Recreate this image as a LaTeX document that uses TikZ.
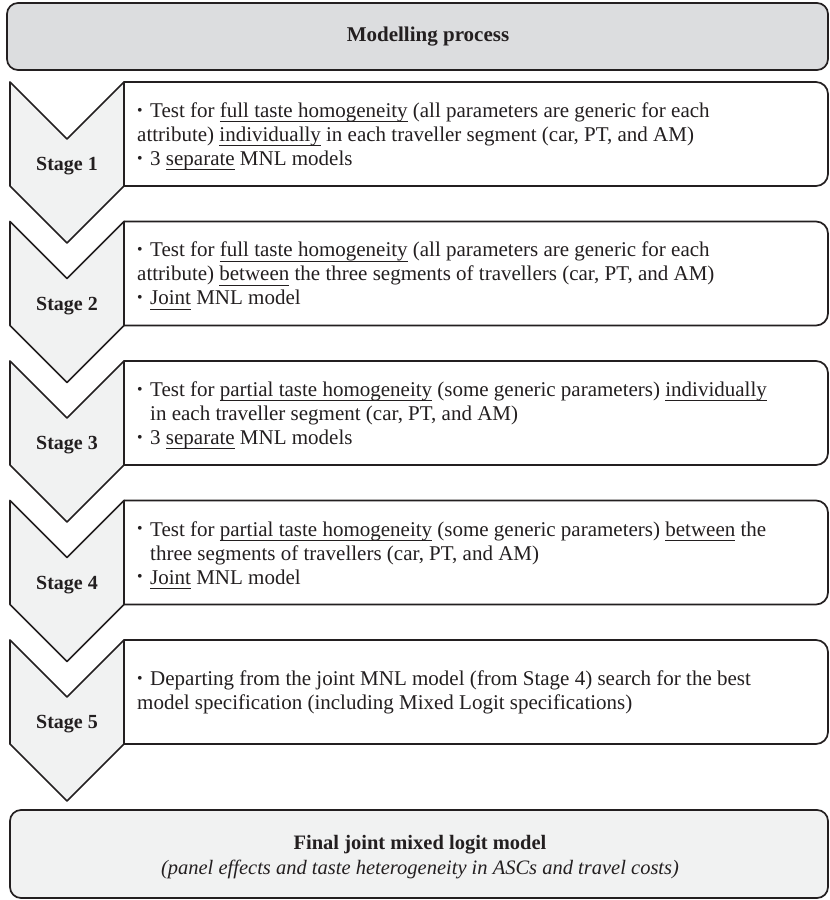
\documentclass[tikz,border=0pt]{standalone}
\usepackage{fontspec}
\setmainfont{Liberation Serif}
\usepackage{graphicx}
\definecolor{ink}{HTML}{231F20}
\definecolor{headfill}{HTML}{DCDDDF}
\definecolor{lightfill}{HTML}{F1F2F2}
\newcommand\bul{\makebox[13pt][l]{\raisebox{0.22ex}{\scalebox{0.75}{\textbullet}}}}
\newcommand\ind{\hspace*{13pt}}
\newsavebox\ulxbox
\newcommand\ulx[1]{\sbox\ulxbox{#1}\rlap{\rule[-4.8pt]{\wd\ulxbox}{0.9pt}}\usebox\ulxbox}
\begin{document}
\begin{tikzpicture}[x=1pt,y=-1pt,
  frame/.style={draw=ink,line width=1.7pt,line join=round},
  chev/.style={frame,fill=lightfill},
  stagebox/.style={frame,fill=white},
  stagelabel/.style={font=\fontsize{20}{24}\selectfont\bfseries,text=ink},
  stagetext/.style={font=\fontsize{21}{24}\selectfont,text=ink,align=left,anchor=west,inner sep=0pt}]
\useasboundingbox (0,0) rectangle (830,900);
% header
\draw[frame,fill=headfill,rounded corners=11pt] (7,3) rectangle (828,70);
\node[font=\fontsize{21}{25}\selectfont\bfseries,text=ink] (head) at (428,36.5) {Modelling process};
% stages
\foreach \t/\n in {82/1,221.5/2,361/3,500.5/4,640/5}{
  \draw[chev] (10,\t) -- (67,\t+57) -- (124,\t) -- (124,\t+104) -- (67,\t+161) -- (10,\t+104) -- cycle;
  \draw[stagebox] (124,\t) -- (816,\t) arc[start angle=-90,end angle=0,radius=12] -- (828,\t+92) arc[start angle=0,end angle=90,radius=12] -- (124,\t+104) -- cycle;
  \node[stagelabel] (label\n) at (67,\t+84.5) {Stage \n};
}
\node[stagetext] (text1) at (137,136.5) {\bul Test for \ulx{full taste homogeneity} (all parameters are generic for each\\
attribute) \ulx{individually} in each traveller segment (car, PT, and AM)\\
\bul 3 \ulx{separate} MNL models};
\node[stagetext] (text2) at (137,276) {\bul Test for \ulx{full taste homogeneity} (all parameters are generic for each\\
attribute) \ulx{between} the three segments of travellers (car, PT, and AM)\\
\bul \ulx{Joint} MNL model};
\node[stagetext] (text3) at (137,415.5) {\bul Test for \ulx{partial taste homogeneity} (some generic parameters) \ulx{individually}\\
\ind in each traveller segment (car, PT, and AM)\\
\bul 3 \ulx{separate} MNL models};
\node[stagetext] (text4) at (137,555) {\bul Test for \ulx{partial taste homogeneity} (some generic parameters) \ulx{between} the\\
\ind three segments of travellers (car, PT, and AM)\\
\bul \ulx{Joint} MNL model};
\node[stagetext] (text5) at (137,692) {\bul Departing from the joint MNL model (from Stage 4) search for the best\\
model specification (including Mixed Logit specifications)};
% final
\draw[frame,fill=lightfill,rounded corners=11pt] (10,810) rectangle (828,898);
\node[font=\fontsize{20.5}{25}\selectfont,text=ink,align=center] (final) at (420,857) {\textbf{Final joint mixed logit model}\\
\textit{(panel effects and taste heterogeneity in ASCs and travel costs)}};
\end{tikzpicture}
\end{document}
